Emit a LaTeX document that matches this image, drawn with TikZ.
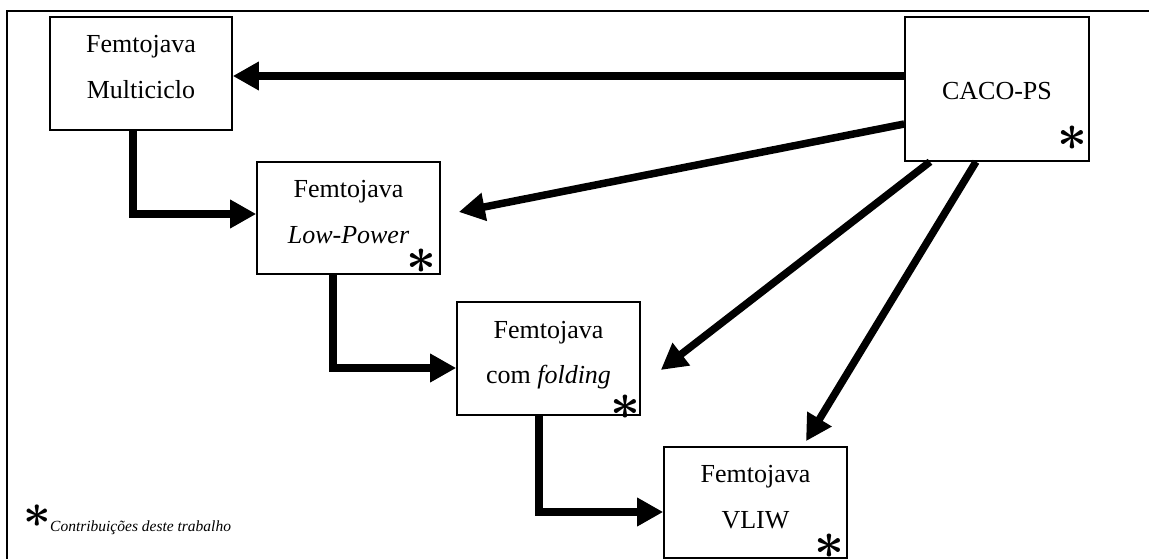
\documentclass[tikz,border=0pt]{standalone}
\usepackage{fontspec}
\usepackage{graphicx}
\setmainfont{Liberation Serif}
\usetikzlibrary{arrows.meta}

\tikzset{
  unitbox/.style={draw=black, line width=1.6pt, rectangle, inner sep=0pt},
  lbl/.style={anchor=base, inner sep=0pt, font=\fontsize{26}{30}\selectfont},
  star/.style={inner sep=0pt},
  arr/.style={line width=7.5pt, -{Triangle[length=26pt,width=27pt]}},
  frameline/.style={line width=2pt}
}
\newcommand{\markstar}{\scalebox{5.2}{\boldmath$\ast$}}
\newcommand{\legendstar}{\scalebox{4.8}{\boldmath$\ast$}}

\begin{document}
\begin{tikzpicture}[x=1pt,y=-1pt]
  \useasboundingbox (0,0) rectangle (1149,559);

  % open frame: top and left edges only
  \draw[frameline] (1149,11) -- (7,11) -- (7,559);

  % boxes
  \node[unitbox, minimum width=182pt, minimum height=113pt] (m)  at (141,73.5)  {};
  \node[unitbox, minimum width=184pt, minimum height=144pt] (c)  at (997,89)    {};
  \node[unitbox, minimum width=183pt, minimum height=112pt] (lp) at (348.5,218) {};
  \node[unitbox, minimum width=183pt, minimum height=113pt] (f)  at (548.5,358.5) {};
  \node[unitbox, minimum width=183pt, minimum height=111pt] (v)  at (755.5,502.5) {};

  % box texts
  \node[lbl] (m1) at (141,53) {Femtojava};
  \node[lbl] (m2) at (141,99) {Multiciclo};
  \node[lbl] (c1) at (997,100) {CACO-PS};
  \node[lbl] (lp1) at (348.5,197) {Femtojava};
  \node[lbl] (lp2) at (348.5,243) {\textit{Low-Power}};
  \node[lbl] (f1) at (548.5,338) {Femtojava};
  \node[lbl] (f2) at (548.5,383) {com \textit{folding}};
  \node[lbl] (v1) at (755.5,482) {Femtojava};
  \node[lbl] (v2) at (755.5,528) {VLIW};

  % contribution marks
  \node[star] (cs)  at (1072,138) {\markstar};
  \node[star] (lps) at (421,261)  {\markstar};
  \node[star] (fs)  at (625,407)  {\markstar};
  \node[star] (vs)  at (829,546)  {\markstar};

  % legend
  \node[star] (ls) at (37,516) {\legendstar};
  \node[anchor=base west, inner sep=0pt, font=\fontsize{15.5}{18}\selectfont\itshape]
    (lt) at (50,531) {Contribuições deste trabalho};

  % connectors
  \draw[arr] ([yshift=13pt]c.west) -- ([yshift=-2.5pt]m.east);
  \draw[arr] ([xshift=-8pt]m.south) |- ([yshift=4pt]lp.west);
  \draw[arr] ([xshift=-15.5pt]lp.south) |- ([yshift=-9.5pt]f.west);
  \draw[arr] ([xshift=-9.5pt]f.south) |- ([yshift=-9.5pt]v.west);
  \draw[arr] ([yshift=-35pt]c.west) -- ([xshift=18pt,yshift=6pt]lp.east);
  \draw[arr] ([xshift=-67pt]c.south) -- ([xshift=20pt,yshift=-11.5pt]f.east);
  \draw[arr] ([xshift=-21pt]c.south) -- ([xshift=50.5pt,yshift=5pt]v.north);
\end{tikzpicture}
\end{document}
